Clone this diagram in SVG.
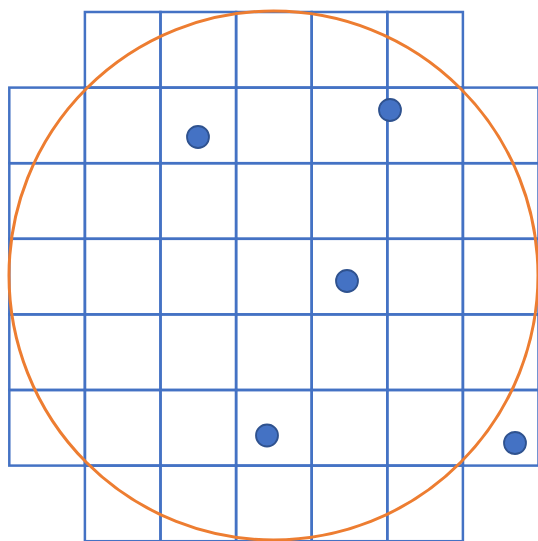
<svg xmlns="http://www.w3.org/2000/svg" width="538" height="541" viewBox="0 0 538 541">
<style>
.c{fill:none;stroke:#4472C4;stroke-width:2.5}
.o{fill:none;stroke:#ED7D31;stroke-width:3}
.d{fill:#4472C4;stroke:#2F528F;stroke-width:1.8}
</style>
<defs><rect id="s" class="c" width="75.6" height="75.6"/></defs>
<rect width="538" height="541" fill="#fff"/>
<g id="grid">
<use href="#s" x="84.9" y="12"/><use href="#s" x="160.5" y="12"/><use href="#s" x="236.1" y="12"/><use href="#s" x="311.7" y="12"/><use href="#s" x="387.3" y="12"/>
<use href="#s" x="9.3" y="87.6"/><use href="#s" x="84.9" y="87.6"/><use href="#s" x="160.5" y="87.6"/><use href="#s" x="236.1" y="87.6"/><use href="#s" x="311.7" y="87.6"/><use href="#s" x="387.3" y="87.6"/><use href="#s" x="462.9" y="87.6"/>
<use href="#s" x="9.3" y="163.2"/><use href="#s" x="84.9" y="163.2"/><use href="#s" x="160.5" y="163.2"/><use href="#s" x="236.1" y="163.2"/><use href="#s" x="311.7" y="163.2"/><use href="#s" x="387.3" y="163.2"/><use href="#s" x="462.9" y="163.2"/>
<use href="#s" x="9.3" y="238.8"/><use href="#s" x="84.9" y="238.8"/><use href="#s" x="160.5" y="238.8"/><use href="#s" x="236.1" y="238.8"/><use href="#s" x="311.7" y="238.8"/><use href="#s" x="387.3" y="238.8"/><use href="#s" x="462.9" y="238.8"/>
<use href="#s" x="9.3" y="314.4"/><use href="#s" x="84.9" y="314.4"/><use href="#s" x="160.5" y="314.4"/><use href="#s" x="236.1" y="314.4"/><use href="#s" x="311.7" y="314.4"/><use href="#s" x="387.3" y="314.4"/><use href="#s" x="462.9" y="314.4"/>
<use href="#s" x="9.3" y="390"/><use href="#s" x="84.9" y="390"/><use href="#s" x="160.5" y="390"/><use href="#s" x="236.1" y="390"/><use href="#s" x="311.7" y="390"/><use href="#s" x="387.3" y="390"/><use href="#s" x="462.9" y="390"/>
<use href="#s" x="84.9" y="465.6"/><use href="#s" x="160.5" y="465.6"/><use href="#s" x="236.1" y="465.6"/><use href="#s" x="311.7" y="465.6"/><use href="#s" x="387.3" y="465.6"/>
</g>
<g id="circle"><circle class="o" cx="273.5" cy="275.5" r="264.5"/></g>
<g id="dots">
<circle class="d" cx="198" cy="137" r="11"/>
<circle class="d" cx="390" cy="110" r="11"/>
<circle class="d" cx="347" cy="281" r="11"/>
<circle class="d" cx="267" cy="435.5" r="11"/>
<circle class="d" cx="515" cy="443" r="11"/>
</g>
</svg>
